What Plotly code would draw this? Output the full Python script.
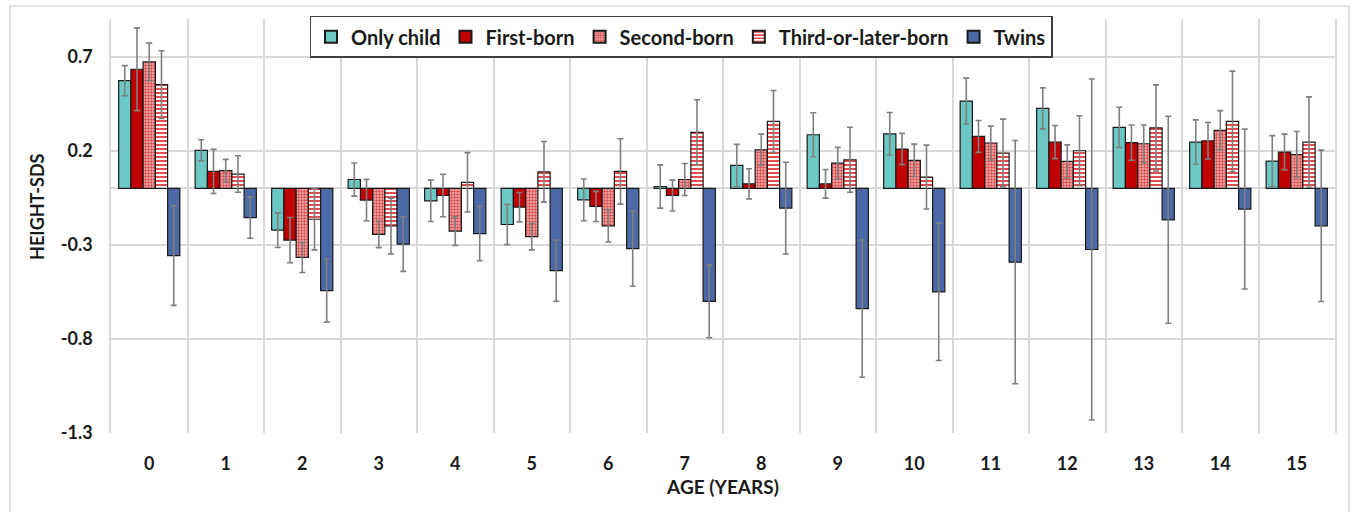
import plotly.graph_objects as go

ages = list(range(16))
age_labels = [str(a) for a in ages]

only_child = [0.572, 0.202, -0.222, 0.047, -0.066, -0.192, -0.061, 0.010, 0.122, 0.285, 0.290, 0.464, 0.425, 0.324, 0.246, 0.145]
only_child_err = [0.080, 0.056, 0.092, 0.088, 0.110, 0.107, 0.111, 0.115, 0.112, 0.117, 0.113, 0.122, 0.109, 0.107, 0.118, 0.135]

first_born = [0.633, 0.090, -0.275, -0.062, -0.038, -0.100, -0.096, -0.038, 0.024, 0.024, 0.209, 0.276, 0.246, 0.243, 0.253, 0.193]
first_born_err = [0.220, 0.117, 0.120, 0.110, 0.113, 0.078, 0.080, 0.082, 0.080, 0.076, 0.083, 0.085, 0.088, 0.094, 0.097, 0.095]

second_born = [0.672, 0.094, -0.367, -0.245, -0.227, -0.256, -0.199, 0.047, 0.205, 0.134, 0.149, 0.241, 0.143, 0.237, 0.308, 0.180]
second_born_err = [0.100, 0.060, 0.080, 0.070, 0.076, 0.071, 0.086, 0.085, 0.083, 0.084, 0.086, 0.090, 0.088, 0.100, 0.105, 0.122]

third_born = [0.551, 0.076, -0.164, -0.200, 0.032, 0.088, 0.090, 0.297, 0.356, 0.152, 0.060, 0.188, 0.200, 0.321, 0.356, 0.246]
third_born_err = [0.180, 0.097, 0.163, 0.148, 0.158, 0.161, 0.174, 0.174, 0.164, 0.173, 0.170, 0.180, 0.186, 0.229, 0.267, 0.240]

twins = [-0.357, -0.155, -0.543, -0.296, -0.240, -0.437, -0.320, -0.601, -0.105, -0.639, -0.550, -0.392, -0.325, -0.167, -0.110, -0.199]
twins_err = [0.265, 0.110, 0.168, 0.145, 0.145, 0.163, 0.200, 0.193, 0.244, 0.365, 0.365, 0.646, 0.906, 0.550, 0.425, 0.402]

y_ticks = [0.7, 0.2, -0.3, -0.8, -1.3]
y_tick_labels = ["0.7", "0.2", "-0.3", "-0.8", "-1.3"]

FONT = "Lato, 'Open Sans', sans-serif"
TXT = "#1a1a1a"
OUTLINE = dict(color="#1a1a1a", width=1.2)
ERR = dict(color="#7F7F7F", thickness=1.6, width=3)

fig = go.Figure()

fig.add_trace(go.Bar(
    name="Only child", x=ages, y=only_child,
    error_y=dict(type="data", array=only_child_err, **ERR),
    marker=dict(color="#6CC8C4", line=OUTLINE),
))
fig.add_trace(go.Bar(
    name="First-born", x=ages, y=first_born,
    error_y=dict(type="data", array=first_born_err, **ERR),
    marker=dict(color="#C00000", line=OUTLINE),
))
fig.add_trace(go.Bar(
    name="Second-born", x=ages, y=second_born,
    error_y=dict(type="data", array=second_born_err, **ERR),
    marker=dict(color="#E06060", line=OUTLINE,
                pattern=dict(shape=".", fgcolor="#D84848", bgcolor="#F6B4B4",
                             size=3, solidity=0.5, fillmode="replace")),
))
fig.add_trace(go.Bar(
    name="Third-or-later-born", x=ages, y=third_born,
    error_y=dict(type="data", array=third_born_err, **ERR),
    marker=dict(color="#E03030", line=OUTLINE,
                pattern=dict(shape="-", fgcolor="#E03838", bgcolor="#FFFFFF",
                             size=4, solidity=0.45, fillmode="replace")),
))
fig.add_trace(go.Bar(
    name="Twins", x=ages, y=twins,
    error_y=dict(type="data", array=twins_err, **ERR),
    marker=dict(color="#4A69A6", line=OUTLINE),
))

fig.update_layout(
    width=1354, height=512,
    margin=dict(l=111, r=19, t=19, b=79),
    paper_bgcolor="white", plot_bgcolor="white",
    barmode="group", bargap=0.2, bargroupgap=0,
    font=dict(family=FONT, color=TXT, size=18),
    legend=dict(
        orientation="h", x=0.4657, xanchor="center", y=1.008, yanchor="top",
        bgcolor="white", bordercolor="#404040", borderwidth=1.5,
        font=dict(family=FONT, size=20, color=TXT, weight="bold"),
        itemsizing="constant", traceorder="normal",
    ),
    xaxis=dict(
        range=[-0.5, 15.5], tickmode="array", tickvals=ages, ticktext=age_labels,
        showgrid=False, zeroline=False, showline=False, ticks="",
        ticklabelstandoff=18,
        tickfont=dict(family=FONT, size=18, color=TXT, weight="bold"),
        minor=dict(tick0=-0.5, dtick=1, showgrid=True, gridcolor="#D9D9D9", gridwidth=1.5),
        title=dict(text="AGE (YEARS)", standoff=7,
                   font=dict(family=FONT, size=19, color=TXT, weight="bold")),
    ),
    yaxis=dict(
        range=[-1.3, 0.9], tickmode="array", tickvals=y_ticks, ticktext=y_tick_labels,
        showgrid=True, gridcolor="#D9D9D9", gridwidth=1.5,
        zeroline=True, zerolinecolor="#D9D9D9", zerolinewidth=1.5,
        showline=True, linecolor="#D9D9D9", linewidth=1.5, mirror=True,
        ticks="", ticklabelstandoff=13,
        tickfont=dict(family=FONT, size=18, color=TXT, weight="bold"),
    ),
    annotations=[dict(
        text="HEIGHT-SDS", textangle=-90, xref="paper", yref="paper",
        x=-0.0605, y=0.546, xanchor="center", yanchor="middle", showarrow=False,
        font=dict(family=FONT, size=18, color=TXT, weight="bold"),
    )],
    shapes=[dict(type="rect", xref="paper", yref="paper",
                 x0=-0.0825, x1=1.0114, y0=-0.25, y1=1.0314,
                 line=dict(color="#D9D9D9", width=1.5), fillcolor="rgba(0,0,0,0)",
                 layer="below")],
)

fig.write_html("out.html")
